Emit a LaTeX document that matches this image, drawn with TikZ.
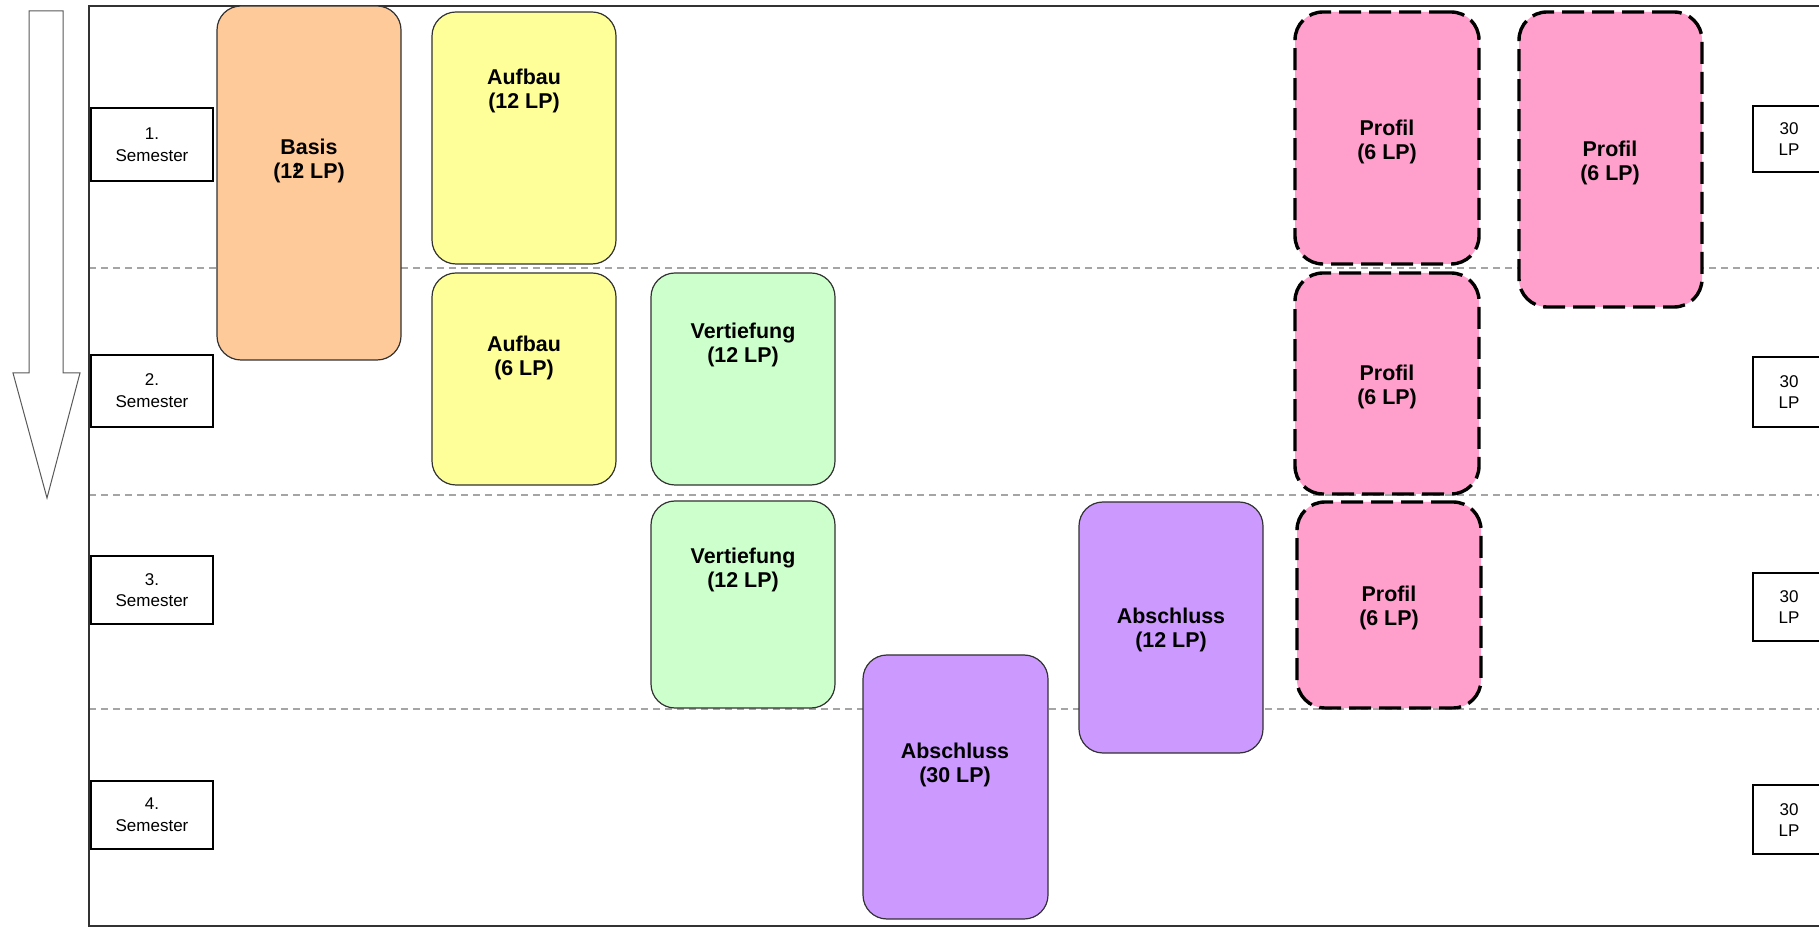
\documentclass[tikz,border=0pt]{standalone}
\usepackage{fontspec}
\setmainfont{Liberation Sans}
\usetikzlibrary{fit}
\definecolor{basisc}{RGB}{255,202,153}
\definecolor{aufbauc}{RGB}{255,255,153}
\definecolor{vertc}{RGB}{204,255,204}
\definecolor{abschc}{RGB}{204,153,255}
\definecolor{profc}{RGB}{255,160,204}
\definecolor{edgec}{RGB}{50,50,50}
\definecolor{gridc}{RGB}{165,165,165}
\begin{document}
\begin{tikzpicture}[x=0.5pt,y=-0.5pt,
  modbox/.style={draw=edgec, line width=0.6pt, rounded corners=12pt, inner sep=0pt},
  profbox/.style={draw=black, fill=profc, line width=1.7pt, dash pattern=on 11pt off 4pt, rounded corners=14pt, inner sep=0pt},
  modtext/.style={font=\fontsize{10.7}{11.7}\selectfont\bfseries, align=center, inner sep=0pt},
  semtext/.style={font=\fontsize{8.5}{10.85}\selectfont, align=center, inner sep=0pt},
  sembox/.style={draw=black, line width=0.7pt, inner sep=0pt},
  divider/.style={draw=gridc, line width=1pt, dash pattern=on 3.5pt off 2.5pt},
  frameline/.style={draw=edgec, line width=0.8pt},
  bigarrow/.style={draw=gray!70!black, line width=0.5pt, fill=white}
]
\useasboundingbox (0,0) rectangle (1819,929);
\fill[white] (0,0) rectangle (1819,929);

% time arrow
\draw[bigarrow] (29,11) -- (63,11) -- (63,373) -- (80,373) -- (47,498) -- (13,373) -- (29,373) -- cycle;

% semester dividers
\draw[divider] (89,268) -- (1830,268);
\draw[divider] (89,495) -- (1830,495);
\draw[divider] (89,709) -- (1830,709);

% frame
\draw[frameline] (1830,6) -- (89,6) -- (89,926) -- (1830,926);

% semester labels
\node[sembox, fit={(91,108) (213,181)}] (s1) {};
\node[semtext] (s1t) at (s1) {1.\\Semester};
\node[sembox, fit={(91,355) (213,427)}] (s2) {};
\node[semtext] (s2t) at (s2) {2.\\Semester};
\node[sembox, fit={(91,556) (213,624)}] (s3) {};
\node[semtext] (s3t) at (s3) {3.\\Semester};
\node[sembox, fit={(91,781) (213,849)}] (s4) {};
\node[semtext] (s4t) at (s4) {4.\\Semester};

% credit labels
\node[sembox, fit={(1753,106) (1826,172)}] (c1) {};
\node[semtext] (c1t) at (1789,139) {30\\LP};
\node[sembox, fit={(1753,357) (1826,427)}] (c2) {};
\node[semtext] (c2t) at (1789,392) {30\\LP};
\node[sembox, fit={(1753,573) (1826,641)}] (c3) {};
\node[semtext] (c3t) at (1789,607) {30\\LP};
\node[sembox, fit={(1753,785) (1826,854)}] (c4) {};
\node[semtext] (c4t) at (1789,820) {30\\LP};

% modules
\node[modbox, fill=basisc, fit={(217,6) (401,360)}] (basis) {};
\node[modtext] (basist) at (309,161) {Basis\\(1\makebox[0pt][l]{\raisebox{0.3em}{\fontsize{6}{6}\selectfont\hspace{0.5pt}1}}2 LP)};

\node[modbox, fill=aufbauc, fit={(432,12) (616,264)}] (aufbau1) {};
\node[modtext] (aufbau1t) at (524,91) {Aufbau\\(12 LP)};
\node[modbox, fill=aufbauc, fit={(432,273) (616,485)}] (aufbau2) {};
\node[modtext] (aufbau2t) at (524,358) {Aufbau\\(6 LP)};

\node[modbox, fill=vertc, fit={(651,273) (835,485)}] (vert1) {};
\node[modtext] (vert1t) at (743,345) {Vertiefung\\(12 LP)};
\node[modbox, fill=vertc, fit={(651,501) (835,708)}] (vert2) {};
\node[modtext] (vert2t) at (743,570) {Vertiefung\\(12 LP)};

\node[modbox, fill=abschc, fit={(863,655) (1048,919)}] (absch30) {};
\node[modtext] (absch30t) at (955,765) {Abschluss\\(30 LP)};
\node[modbox, fill=abschc, fit={(1079,502) (1263,753)}] (absch12) {};
\node[modtext] (absch12t) at (1171,630) {Abschluss\\(12 LP)};

\node[profbox, fit={(1295,12) (1479,264)}] (prof1) {};
\node[modtext] (prof1t) at (1387,142) {Profil\\(6 LP)};
\node[profbox, fit={(1295,273) (1479,494)}] (prof2) {};
\node[modtext] (prof2t) at (1387,387) {Profil\\(6 LP)};
\node[profbox, fit={(1297,502) (1481,708)}] (prof3) {};
\node[modtext] (prof3t) at (1389,608) {Profil\\(6 LP)};
\node[profbox, fit={(1519,12) (1702,307)}] (prof4) {};
\node[modtext] (prof4t) at (1610,163) {Profil\\(6 LP)};
\end{tikzpicture}
\end{document}
